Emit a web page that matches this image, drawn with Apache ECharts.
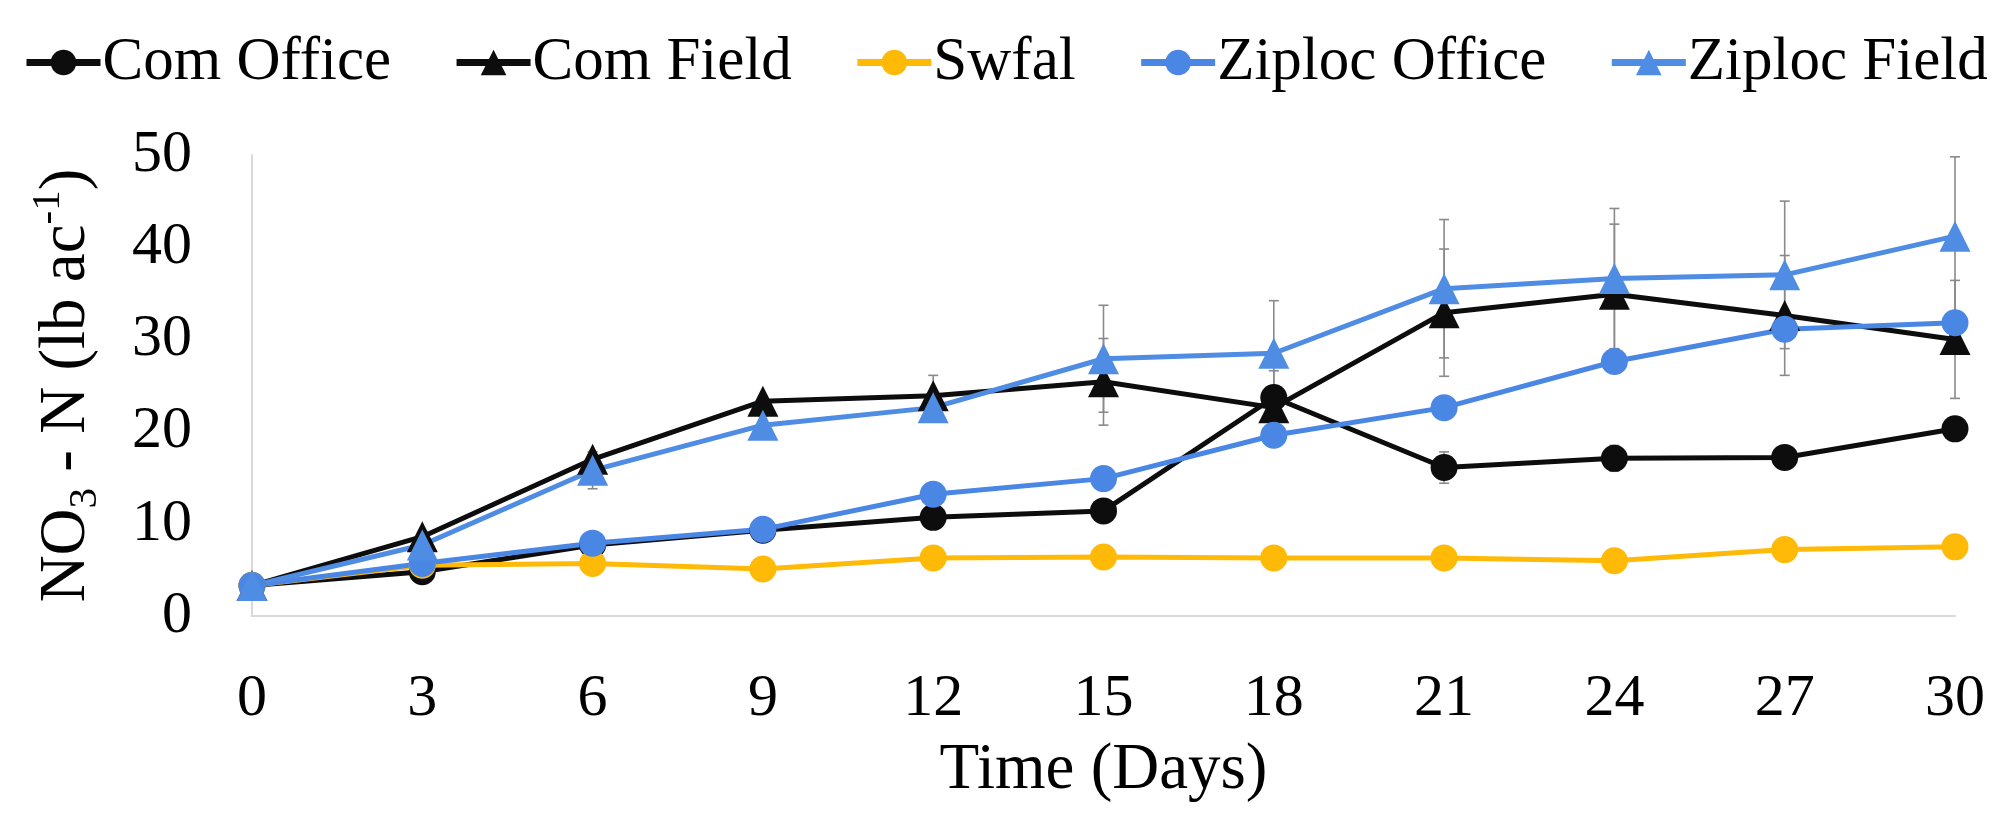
<!DOCTYPE html>
<html>
<head>
<meta charset="utf-8">
<script src="https://cdn.jsdelivr.net/npm/echarts@6/dist/echarts.min.js"></script>
<style>
  html, body { margin: 0; padding: 0; background: #fff; }
  #chart { width: 2013px; height: 833px; }
</style>
</head>
<body>
<div id="chart"></div>
<script>
// ---- data ----
const days = [0, 3, 6, 9, 12, 15, 18, 21, 24, 27, 30];
const xTicks = [0, 3, 6, 9, 12, 15, 18, 21, 24, 27, 30];
const yTicks = [0, 10, 20, 30, 40, 50];

const comOffice    = [3.3, 4.8, 7.7, 9.3, 10.7, 11.4, 23.7, 16.1, 17.1, 17.2, 20.3];
const comField     = [3.3, 8.6, 17.0, 23.3, 23.9, 25.4, 22.6, 32.9, 34.9, 32.6, 30.0];
const swfal        = [3.3, 5.5, 5.7, 5.1, 6.3, 6.4, 6.3, 6.3, 6.0, 7.2, 7.5];
const ziplocOffice = [3.3, 5.7, 7.9, 9.4, 13.2, 14.9, 19.6, 22.6, 27.6, 31.1, 31.8];
const ziplocField  = [3.3, 7.7, 15.8, 20.7, 22.6, 27.9, 28.5, 35.5, 36.6, 37.0, 41.2];

const comOfficeErr    = [0.2, 0.3, 0.3, 0.3, 0.3, 0.3, 0.5, 1.7, 1.4, 0.5, 0.5];
const comFieldErr     = [0.3, 0.5, 0.5, 0.5, 2.2, 4.7, 4.0, 6.9, 7.6, 6.5, 6.4];
const swfalErr        = [0.2, 0.2, 0.2, 0.2, 0.2, 0.2, 0.2, 0.2, 0.2, 0.2, 0.2];
const ziplocOfficeErr = [0.2, 0.3, 0.3, 0.3, 0.3, 0.3, 0.5, 0.5, 0.5, 0.5, 0.5];
const ziplocFieldErr  = [0.3, 0.5, 2.0, 1.0, 1.5, 5.8, 5.7, 7.5, 7.6, 8.0, 8.6];

const seriesNames = ['Com Office', 'Com Field', 'Swfal', 'Ziploc Office', 'Ziploc Field'];

// ---- styling ----
const BLACK = '#0d0d0d';
const GOLD = '#FFBA08';
const BLUE = '#4A86E3';
const BLUE2 = '#4F8CE4';
const FONT = '"Liberation Serif", "Times New Roman", serif';

function lineSeries(name, values, color, symbol, size) {
  return {
    type: 'line',
    name: name,
    data: days.map((d, i) => [d, values[i]]),
    symbol: symbol,
    symbolSize: size,
    showSymbol: true,
    lineStyle: { color: color, width: 5 },
    itemStyle: { color: color },
    z: 3
  };
}

function errSeries(values, errs) {
  return {
    type: 'custom',
    data: days.map((d, i) => [d, values[i], errs[i]]),
    encode: { x: 0, y: 1 },
    z: 2,
    silent: true,
    renderItem: function (params, api) {
      const x = api.value(0), y = api.value(1), e = api.value(2);
      const top = api.coord([x, y + e]);
      const bot = api.coord([x, y - e]);
      const hw = 5;
      const st = { stroke: '#8a8a8a', lineWidth: 1.6 };
      return {
        type: 'group',
        children: [
          { type: 'line', shape: { x1: top[0], y1: top[1], x2: bot[0], y2: bot[1] }, style: st },
          { type: 'line', shape: { x1: top[0] - hw, y1: top[1], x2: top[0] + hw, y2: top[1] }, style: st },
          { type: 'line', shape: { x1: bot[0] - hw, y1: bot[1], x2: bot[0] + hw, y2: bot[1] }, style: st }
        ]
      };
    }
  };
}

const chart = echarts.init(document.getElementById('chart'), null, { renderer: 'canvas' });

chart.setOption({
  animation: false,
  backgroundColor: '#ffffff',
  textStyle: { fontFamily: FONT },
  legend: {
    data: seriesNames,
    left: 18,
    top: 27,
    itemWidth: 74,
    itemHeight: 32,
    itemGap: 62,
    lineStyle: { width: 7 },
    textStyle: { fontFamily: FONT, fontSize: 61, color: '#000', padding: [0, 0, 0, -3] }
  },
  grid: { left: 252, right: 58, top: 155, bottom: 217 },
  xAxis: {
    type: 'value',
    min: xTicks[0],
    max: xTicks[xTicks.length - 1],
    interval: 3,
    name: 'Time (Days)',
    nameLocation: 'middle',
    nameGap: 122,
    nameTextStyle: { fontFamily: FONT, fontSize: 65, color: '#000' },
    axisLine: { show: true, lineStyle: { color: '#d9d9d9', width: 2 } },
    axisTick: { show: false },
    splitLine: { show: false },
    axisLabel: { fontFamily: FONT, fontSize: 60, color: '#000', margin: 53 }
  },
  yAxis: {
    type: 'value',
    min: yTicks[0],
    max: yTicks[yTicks.length - 1],
    interval: 10,
    name: 'NO{sub|3} - N (lb ac{sup|-1})',
    nameLocation: 'middle',
    nameRotate: 90,
    nameGap: 146,
    nameTextStyle: {
      fontFamily: FONT, fontSize: 65, color: '#000', lineHeight: 78,
      rich: {
        sub: { fontFamily: FONT, fontSize: 41, color: '#000', lineHeight: 26, verticalAlign: 'bottom' },
        sup: { fontFamily: FONT, fontSize: 41, color: '#000', lineHeight: 26, verticalAlign: 'top' }
      }
    },
    axisLine: { show: true, lineStyle: { color: '#d9d9d9', width: 2 } },
    axisTick: { show: false },
    splitLine: { show: false },
    axisLabel: { fontFamily: FONT, fontSize: 60, color: '#000', margin: 60 }
  },
  series: [
    errSeries(comOffice, comOfficeErr),
    errSeries(comField, comFieldErr),
    errSeries(swfal, swfalErr),
    errSeries(ziplocOffice, ziplocOfficeErr),
    errSeries(ziplocField, ziplocFieldErr),
    lineSeries('Com Office', comOffice, BLACK, 'circle', 27),
    lineSeries('Com Field', comField, BLACK, 'triangle', 31),
    lineSeries('Swfal', swfal, GOLD, 'circle', 27),
    lineSeries('Ziploc Office', ziplocOffice, BLUE, 'circle', 27),
    lineSeries('Ziploc Field', ziplocField, BLUE2, 'triangle', 31)
  ]
});
</script>
</body>
</html>
